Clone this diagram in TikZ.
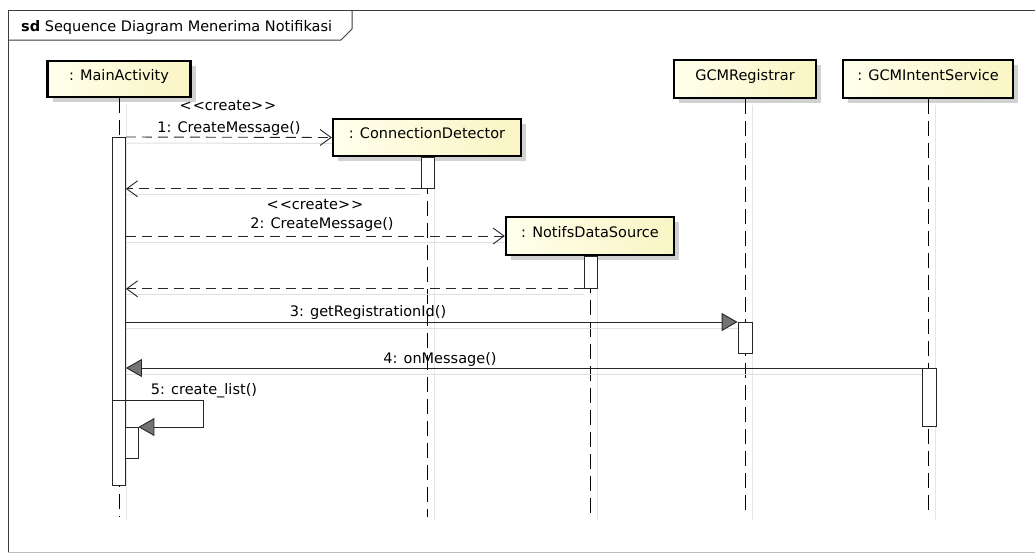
\documentclass[tikz,border=0pt]{standalone}
\usepackage{fontspec}
\setmainfont{DejaVu Sans}
\usetikzlibrary{arrows.meta,shadows}
\definecolor{boxL}{RGB}{255,255,236}
\definecolor{boxR}{RGB}{249,245,196}
\definecolor{frameC}{RGB}{60,60,60}
\begin{document}
\begin{tikzpicture}[x=1pt,y=-1pt,
  font=\fontsize{14.5}{17}\selectfont,
  lbox/.style={draw=black, line width=2.4pt, left color=boxL, right color=boxR,
    inner sep=0pt, text height=10.5pt, text depth=8pt,
    drop shadow={shadow xshift=5pt, shadow yshift=-5pt, fill=black!18, opacity=1}},
  act/.style={draw=black!85, fill=white, line width=0.8pt, minimum width=13pt,
    inner sep=0pt, anchor=north},
  lifeline/.style={draw=black, line width=1pt, dash pattern=on 15pt off 7pt},
  lifeshadow/.style={draw=black!10, line width=1pt},
  msg/.style={draw=black!85, line width=0.9pt},
  mshadow/.style={draw=black!12, line width=1pt},
  create/.style={msg, dash pattern=on 10pt off 6pt, -{Straight Barb[length=11pt,width=16pt]}},
  reply/.style={msg, dash pattern=on 10pt off 6pt, -{Straight Barb[length=11pt,width=16pt]}},
  call/.style={msg, -{Triangle[length=16pt,width=18pt,fill=black!55]}},
  lbl/.style={anchor=base, inner sep=0pt}
]
\useasboundingbox (0,0) rectangle (1035,554);
% frame
\draw[frameC, line width=1pt] (1035,10) -- (8,10) -- (8,552);
\draw[black!25, line width=1pt] (8,552) -- (1035,552);
\draw[frameC, line width=1pt] (8,40) -- (341,40) -- (352,29) -- (352,10);
\node[anchor=base west, inner sep=0pt] (title) at (21,31) {\textbf{sd} Sequence Diagram Menerima Notifikasi};

% end coordinate of lifelines
\coordinate (bot) at (0,517);
\coordinate (botS) at (0,520);

% lifeline boxes
\node[lbox, minimum width=143pt, minimum height=36pt] (ma) at (119,79) {: MainActivity};
\node[lbox, minimum width=188pt, minimum height=37pt] (cd) at (427,137.5) {: ConnectionDetector};
\node[lbox, minimum width=168pt, minimum height=38pt] (nds) at (590,236) {: NotifsDataSource};
\node[lbox, minimum width=142pt, minimum height=38pt] (gr) at (745,79) {GCMRegistrar};
\node[lbox, minimum width=170pt, minimum height=38pt] (gis) at (928,79) {: GCMIntentService};

% lifeline shadows
\foreach \n in {ma,cd,nds,gr,gis}{
  \draw[lifeshadow] ([xshift=7pt,yshift=-6pt]\n.south) -- ([xshift=7pt]\n.south |- botS);
}
% lifelines
\foreach \n in {ma,cd,nds,gr,gis}{
  \draw[lifeline] (\n.south) -- (\n.south |- bot);
}

% activations
\node[act, minimum height=348pt] (a0) at (119,137) {};
\node[act, minimum height=31pt] (a1) at (427.5,157) {};
\node[act, minimum height=32pt] (a2) at (590.5,256) {};
\node[act, minimum height=31pt, minimum width=14pt] (a3) at (745,322) {};
\node[act, minimum height=58pt, minimum width=14pt] (a4) at (929,368) {};
\node[act, minimum height=31pt] (a5) at (131.5,427) {};

% message shadows
\draw[mshadow] ([yshift=-6pt]a0.north east) -- ([yshift=-6pt]cd.west);
\draw[mshadow] ([yshift=-6pt]a1.south west) -- ([yshift=-6pt]a0.east |- a1.south);
\draw[mshadow] ([yshift=-6pt]a0.east |- nds.west) -- ([yshift=-6pt]nds.west);
\draw[mshadow] ([yshift=-6pt]a2.south west) -- ([yshift=-6pt]a0.east |- a2.south);
\draw[mshadow] ([yshift=-6pt]a0.east |- a3.north) -- ([yshift=-6pt]a3.north west);
\draw[mshadow] ([yshift=-6pt]a4.north west) -- ([yshift=-6pt]a0.east |- a4.north);

% messages
\draw[create] (a0.north east) -- (cd.west);
\node[lbl] (c1) at (228,110) {<\kern1pt<create>\kern1pt>};
\node[lbl] (m1) at (229,132) {1: CreateMessage()};

\draw[reply] (a1.south west) -- (a0.east |- a1.south);

\draw[create] (a0.east |- nds.west) -- (nds.west);
\node[lbl] (c2) at (315,209) {<\kern1pt<create>\kern1pt>};
\node[lbl] (m2) at (322,228) {2: CreateMessage()};

\draw[reply] (a2.south west) -- (a0.east |- a2.south);

\draw[call] (a0.east |- a3.north) -- (a3.north west);
\node[lbl] (m3) at (368,316) {3: getRegistrationId()};

\draw[call] (a4.north west) -- (a0.east |- a4.north);
\node[lbl] (m4) at (440,363) {4: onMessage()};

\coordinate (s5b) at (203,400);
\coordinate (s5c) at (203,427);
\draw[call] (a0.west |- s5b) -- (s5b) -- (s5c) -- (a5.north east);
\node[lbl] (m5) at (204,394) {5: create\_list()};
\end{tikzpicture}
\end{document}
